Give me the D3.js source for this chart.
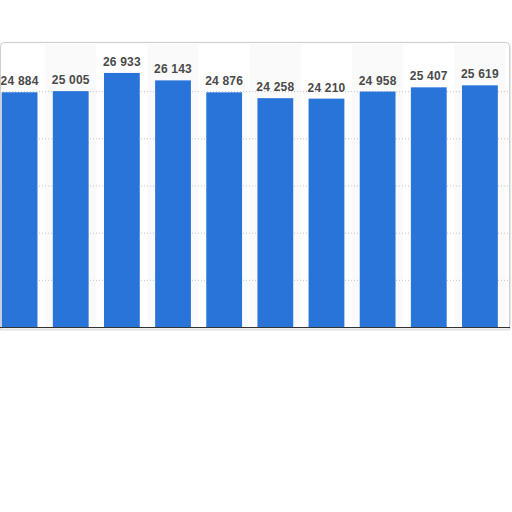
<!DOCTYPE html>
<html>
<head>
<meta charset="utf-8">
<script src="https://cdn.jsdelivr.net/npm/d3@7"></script>
<style>
  html, body { margin: 0; padding: 0; background: #fff; }
  svg { display: block; }
</style>
</head>
<body>
<svg id="chart" width="512" height="512"></svg>
<script>
const categories = ["C1","C2","C3","C4","C5","C6","C7","C8","C9","C10"];
const values = [24884, 25005, 26933, 26143, 24876, 24258, 24210, 24958, 25407, 25619];
const yTicks = [5000, 10000, 15000, 20000, 25000];

const svg = d3.select("#chart");
const plotTop = 44, plotBottom = 327;

const x = d3.scaleBand().domain(categories).range([-6, 505.5]).paddingInner(0.3).paddingOuter(0.15);
const y = d3.scaleLinear().domain([0, 30000]).range([plotBottom, plotTop]);

const loc = d3.formatLocale({decimal: ".", thousands: " ", grouping: [3], currency: ["", ""]});
const fmt = loc.format(",");

const defs = svg.append("defs");
const f = defs.append("filter").attr("id","sh").attr("x","-5%").attr("y","-5%").attr("width","110%").attr("height","110%");
f.append("feDropShadow").attr("dx",0).attr("dy",1).attr("stdDeviation",1.2).attr("flood-color","#000").attr("flood-opacity",0.25);

svg.append("rect")
  .attr("x", 0.5).attr("y", 42.5).attr("width", 509).attr("height", 300)
  .attr("rx", 4).attr("fill", "#fff").attr("stroke", "#cfcfcf").attr("stroke-width", 1)
  .attr("filter", "url(#sh)");
svg.append("rect").attr("x", -2).attr("y", 329).attr("width", 516).attr("height", 30).attr("fill", "#fff");

// alternating column bands
svg.append("g").selectAll("rect")
  .data(categories.filter((d, i) => i % 2 === 1))
  .join("rect")
  .attr("x", d => x(d) - x.step() * x.paddingInner() / 2)
  .attr("width", x.step())
  .attr("y", plotTop)
  .attr("height", plotBottom - plotTop)
  .attr("fill", "#fafafa");

// gridlines
svg.append("g")
  .call(d3.axisLeft(y).tickValues(yTicks).tickSize(-509).tickFormat(""))
  .call(g => g.select(".domain").remove())
  .call(g => g.selectAll(".tick line")
    .attr("stroke", "#c4c4c4").attr("stroke-dasharray", "1,2"));

// bars
svg.append("g").selectAll("rect")
  .data(values)
  .join("rect")
  .attr("x", (d, i) => x(categories[i]))
  .attr("width", x.bandwidth())
  .attr("y", d => y(d))
  .attr("height", d => plotBottom - y(d))
  .attr("fill", "#2874d9");

// value labels
svg.append("g").selectAll("text")
  .data(values)
  .join("text")
  .attr("x", (d, i) => x(categories[i]) + x.bandwidth() / 2)
  .attr("y", d => y(d) - 7)
  .attr("text-anchor", "middle")
  .attr("font-family", "Liberation Sans, Arial, sans-serif")
  .attr("font-weight", "bold")
  .attr("font-size", 12)
  .attr("letter-spacing", 0.2)
  .attr("fill", "#4a4a4a")
  .text(d => fmt(d));

// baseline axis
svg.append("g")
  .attr("transform", `translate(0,${plotBottom})`)
  .call(d3.axisBottom(x).tickSize(0).tickFormat(""))
  .call(g => g.select(".domain").attr("d", "M0,0.5H510").attr("stroke", "#333").attr("stroke-width", 1.2));
svg.append("line").attr("x1", 0).attr("x2", 510).attr("y1", 329.5).attr("y2", 329.5)
  .attr("stroke", "#e2e2e2").attr("stroke-width", 2);
</script>
</body>
</html>
